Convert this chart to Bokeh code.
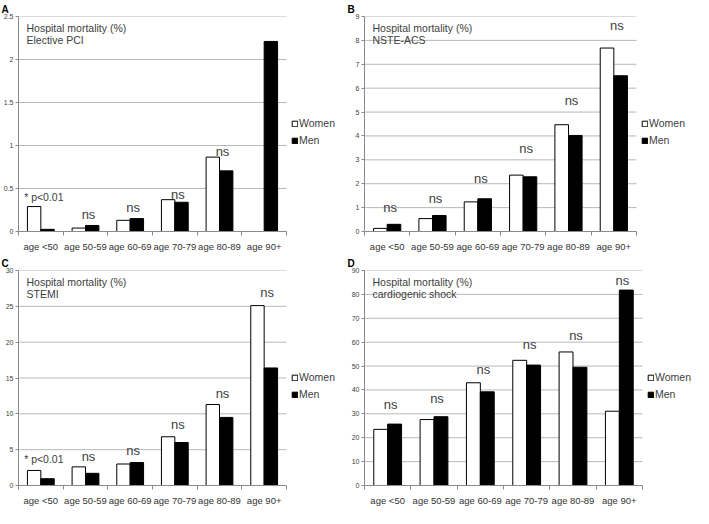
import numpy as np
from bokeh.plotting import figure
from bokeh.layouts import gridplot
from bokeh.models import (ColumnDataSource, FixedTicker, Label, Legend,
                          LegendItem, Range1d)
from bokeh.core.properties import value
from bokeh.embed import file_html
from bokeh.resources import INLINE

categories = ["age <50", "age 50-59", "age 60-69", "age 70-79", "age 80-89", "age 90+"]

# Panel A: Elective PCI
a_women = [0.29, 0.04, 0.13, 0.37, 0.865, 0.0]
a_men = [0.025, 0.07, 0.15, 0.34, 0.705, 2.21]
a_notes = ["* p<0.01", "ns", "ns", "ns", "ns", ""]
a_note_y = [0.40, 0.195, 0.28, 0.435, 0.925, 0.0]
a_yticks = [0, 0.5, 1, 1.5, 2, 2.5]
a_ytick_labels = ["0", "0.5", "1", "1.5", "2", "2.5"]

# Panel B: NSTE-ACS
b_women = [0.13, 0.54, 1.24, 2.36, 4.47, 7.68]
b_men = [0.30, 0.67, 1.37, 2.29, 4.02, 6.52]
b_notes = ["ns", "ns", "ns", "ns", "ns", "ns"]
b_note_y = [1.01, 1.39, 2.22, 3.48, 5.49, 8.63]
b_yticks = [0, 1, 2, 3, 4, 5, 6, 7, 8, 9]
b_ytick_labels = ["0", "1", "2", "3", "4", "5", "6", "7", "8", "9"]

# Panel C: STEMI
c_women = [2.1, 2.6, 3.0, 6.8, 11.3, 25.1]
c_men = [0.95, 1.7, 3.2, 6.0, 9.5, 16.4]
c_notes = ["* p<0.01", "ns", "ns", "ns", "ns", "ns"]
c_note_y = [3.7, 4.0, 4.9, 8.5, 12.9, 26.9]
c_yticks = [0, 5, 10, 15, 20, 25, 30]
c_ytick_labels = ["0", "5", "10", "15", "20", "25", "30"]

# Panel D: cardiogenic shock
d_women = [23.5, 27.6, 43.0, 52.4, 55.9, 31.1]
d_men = [25.7, 28.8, 39.2, 50.4, 49.5, 81.8]
d_notes = ["ns", "ns", "ns", "ns", "ns", "ns"]
d_note_y = [33.9, 36.3, 48.6, 59.0, 62.7, 85.8]
d_yticks = [0, 10, 20, 30, 40, 50, 60, 70, 80, 90]
d_ytick_labels = ["0", "10", "20", "30", "40", "50", "60", "70", "80", "90"]

FONT = "Liberation Sans"
TXT = "#404040"
GRID = "#b8b8b8"
AXIS = "#8a8a8a"


def make_panel(letter, subtitle, women, men, notes, note_y, yticks, ytick_labels,
               bars_w, legend_w, fh, border_left):
    ymax = yticks[-1]
    n = len(categories)
    x_end = n * (bars_w + legend_w) / bars_w
    p = figure(frame_width=bars_w + legend_w, frame_height=fh, output_backend="svg",
               toolbar_location=None,
               x_range=Range1d(0, x_end), y_range=Range1d(0, ymax),
               min_border_left=border_left, min_border_top=0, min_border_bottom=2,
               min_border_right=0, title=letter)
    p.outline_line_color = None
    p.title.text_font = FONT
    p.title.text_font_style = "bold"
    p.title.text_font_size = "10px"
    p.title.text_color = "black"
    p.title.standoff = 3
    p.title.align = "left"
    p.title.offset = -border_left + 1

    # horizontal grid lines only across the bar area
    grid_src = ColumnDataSource(dict(y=[t for t in yticks if t > 0]))
    p.segment(x0=0, x1=n, y0="y", y1="y", source=grid_src, line_color=GRID, line_width=1)

    xs = np.arange(n) + 0.5
    w_idx = [i for i, v in enumerate(women) if v > 0]
    src_w = ColumnDataSource(dict(x=[xs[i] - 0.15 for i in w_idx], top=[women[i] for i in w_idx]))
    src_m = ColumnDataSource(dict(x=list(xs + 0.15), top=men))
    rw = p.vbar(x="x", top="top", width=0.3, bottom=0, source=src_w,
                fill_color="white", line_color="black", line_width=1)
    rm = p.vbar(x="x", top="top", width=0.3, bottom=0, source=src_m,
                fill_color="black", line_color="black", line_width=1)

    n_idx = [i for i, t in enumerate(notes) if t]
    src_n = ColumnDataSource(dict(
        x=[xs[i] for i in n_idx], y=[note_y[i] for i in n_idx],
        text=[notes[i] for i in n_idx],
        size=["10.5px" if notes[i].startswith("*") else "13px" for i in n_idx]))
    p.text(x="x", y="y", text="text", source=src_n, text_align="center",
           text_baseline="middle", x_offset=3, text_font=value(FONT),
           text_font_size="size", text_color=TXT)

    # x axis
    xa = p.xaxis[0]
    xa.bounds = (0, n)
    xa.ticker = FixedTicker(ticks=list(xs), minor_ticks=list(range(n + 1)))
    xa.major_label_overrides = {float(x): c for x, c in zip(xs, categories)}
    xa.major_tick_line_color = None
    xa.minor_tick_line_color = AXIS
    xa.minor_tick_out = 4
    xa.minor_tick_in = 0
    xa.axis_line_color = AXIS
    xa.major_label_text_font = FONT
    xa.major_label_text_font_size = "9.5px"
    xa.major_label_text_color = "#333333"
    xa.major_label_standoff = 3

    # y axis
    ya = p.yaxis[0]
    ya.ticker = FixedTicker(ticks=yticks)
    ya.major_label_overrides = {t: l for t, l in zip(yticks, ytick_labels)}
    ya.minor_tick_line_color = None
    ya.major_tick_line_color = AXIS
    ya.major_tick_out = 3
    ya.major_tick_in = 0
    ya.axis_line_color = AXIS
    ya.major_label_text_font = FONT
    ya.major_label_text_font_size = "7px"
    ya.major_label_text_color = TXT
    ya.major_label_standoff = 2

    p.xgrid.grid_line_color = None
    p.ygrid.grid_line_color = None

    # inner titles
    p.add_layout(Label(x=0, y=ymax, x_offset=8, y_offset=-5, text="Hospital mortality  (%)",
                       text_font=FONT, text_font_size="10.5px", text_color=TXT,
                       text_baseline="top"))
    p.add_layout(Label(x=0, y=ymax, x_offset=8, y_offset=-17, text=subtitle,
                       text_font=FONT, text_font_size="10.5px", text_color=TXT,
                       text_baseline="top"))

    legend = Legend(items=[LegendItem(label="Women", renderers=[rw]),
                           LegendItem(label="Men", renderers=[rm])],
                    location=(bars_w + 5, int(fh * 0.47) - 16), border_line_color=None,
                    background_fill_alpha=0, glyph_width=7, glyph_height=7,
                    label_standoff=1, label_text_font=FONT, label_text_font_size="10.5px",
                    label_text_color=TXT, label_height=12, spacing=5, padding=2, margin=0)
    p.add_layout(legend, "center")
    return p


pa = make_panel("A", "Elective PCI", a_women, a_men, a_notes, a_note_y, a_yticks,
                a_ytick_labels, 268, 60, 215, 18)
pb = make_panel("B", "NSTE-ACS", b_women, b_men, b_notes, b_note_y, b_yticks,
                b_ytick_labels, 272, 56, 215, 18)
pc = make_panel("C", "STEMI", c_women, c_men, c_notes, c_note_y, c_yticks,
                c_ytick_labels, 268, 60, 215, 18)
pd_ = make_panel("D", "cardiogenic shock", d_women, d_men, d_notes, d_note_y, d_yticks,
                 d_ytick_labels, 278, 50, 215, 18)

p = gridplot([[pa, pb], [pc, pd_]], toolbar_location=None)

open("out.html", "w").write(file_html(p, INLINE))
